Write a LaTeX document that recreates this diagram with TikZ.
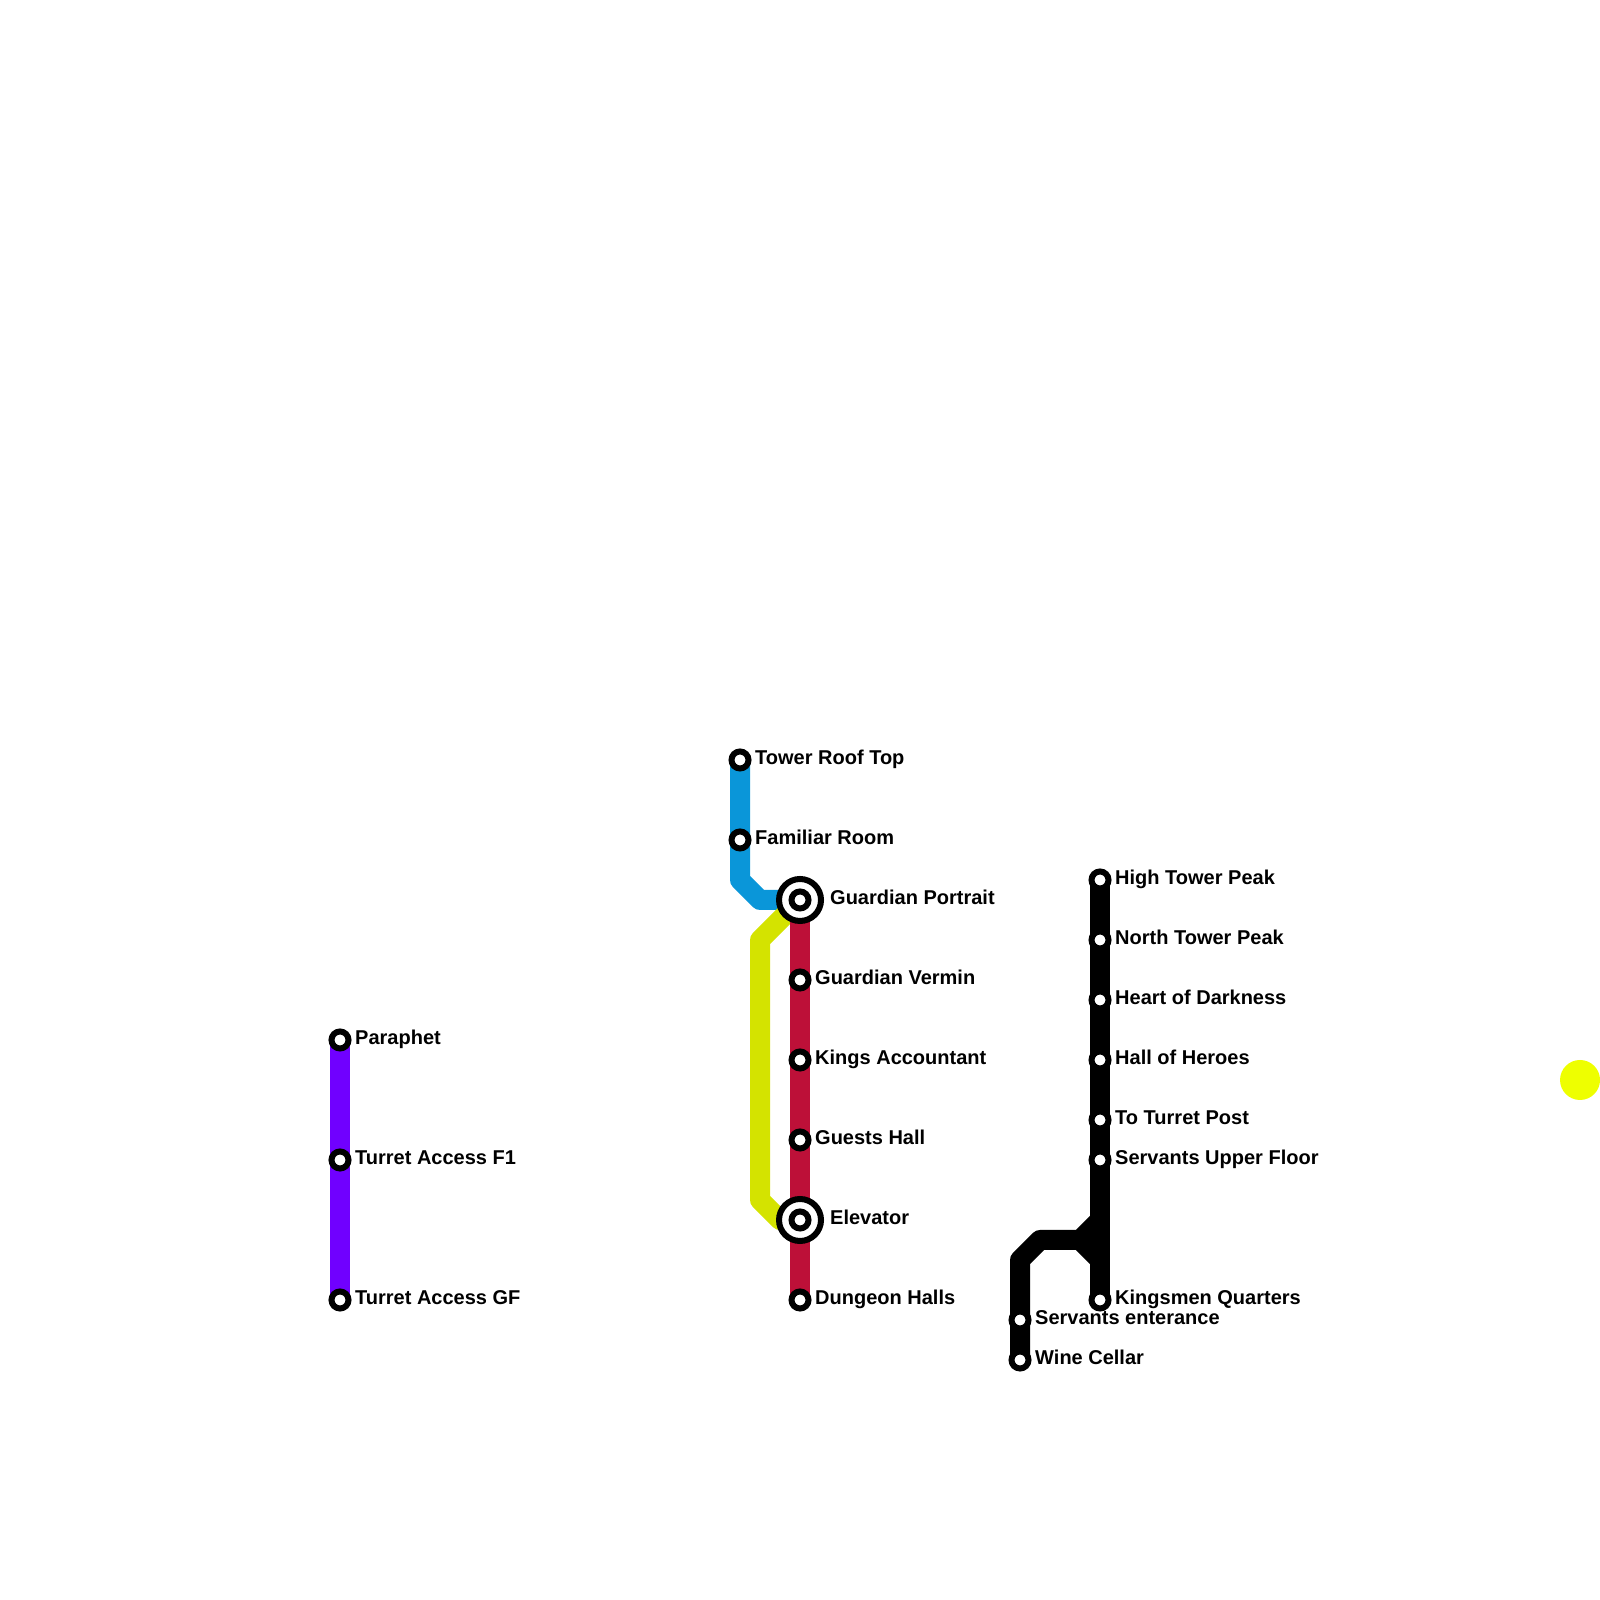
\documentclass[tikz,border=0pt]{standalone}
\usepackage{fontspec}
\setmainfont{Liberation Sans}
\usetikzlibrary{backgrounds}
\definecolor{turret}{HTML}{7000FF}
\definecolor{tower}{HTML}{0A96D9}
\definecolor{dungeon}{HTML}{BD1038}
\definecolor{service}{HTML}{D4E300}
\definecolor{sunspot}{HTML}{EEFF00}
\tikzset{
    metro/.style={line width=2mm, line join=round},
    station/.style={circle, draw=black, fill=white, line width=0.6mm,
                    minimum size=1.7mm, inner sep=0pt},
    interchange/.style={circle, draw=black, fill=white, line width=0.6mm,
                    minimum size=4.2mm, inner sep=0pt},
    place/.style={anchor=base west, inner sep=0pt,
                  font=\fontsize{5.69}{7}\selectfont\bfseries},
}
\begin{document}
\begin{tikzpicture}
\useasboundingbox (0,0) rectangle (16,16);

% Turret line
\node[station] (paraphet) at (3.40,5.60) {};
\node[station] (accessF) at (3.40,4.40) {};
\node[station] (accessG) at (3.40,3.00) {};
\node[place] (paraphetText) at (3.545,5.55) {Paraphet};
\node[place] (accessFText) at (3.545,4.35) {Turret Access F1};
\node[place] (accessGText) at (3.545,2.95) {Turret Access GF};

% Tower line
\node[station] (roof) at (7.40,8.40) {};
\node[station] (familiar) at (7.40,7.60) {};
\node[place] (roofText) at (7.545,8.35) {Tower Roof Top};
\node[place] (familiarText) at (7.545,7.55) {Familiar Room};
\coordinate (towerA) at (7.40,7.20);
\coordinate (towerB) at (7.60,7.00);

% Interchanges
\node[interchange] (portraitRing) at (8.00,7.00) {};
\node[station] (portrait) at (8.00,7.00) {};
\node[interchange] (elevatorRing) at (8.00,3.80) {};
\node[station] (elevator) at (8.00,3.80) {};
\node[place] (portraitText) at (8.295,6.95) {Guardian Portrait};
\node[place] (elevatorText) at (8.295,3.75) {Elevator};

% Dungeon line
\node[station] (vermin) at (8.00,6.20) {};
\node[station] (accountant) at (8.00,5.40) {};
\node[station] (guests) at (8.00,4.60) {};
\node[station] (halls) at (8.00,3.00) {};
\node[place] (verminText) at (8.145,6.15) {Guardian Vermin};
\node[place] (accountantText) at (8.145,5.35) {Kings Accountant};
\node[place] (guestsText) at (8.145,4.55) {Guests Hall};
\node[place] (hallsText) at (8.145,2.95) {Dungeon Halls};

% Bypass line
\coordinate (bypassA) at (7.60,6.60);
\coordinate (bypassB) at (7.60,4.00);
\coordinate (bypassC) at (7.80,3.80);

% Kingsmen line
\node[station] (peak) at (11.00,7.20) {};
\node[station] (north) at (11.00,6.60) {};
\node[station] (heart) at (11.00,6.00) {};
\node[station] (heroes) at (11.00,5.40) {};
\node[station] (post) at (11.00,4.80) {};
\node[station] (upper) at (11.00,4.40) {};
\node[station] (quarters) at (11.00,3.00) {};
\node[station] (entrance) at (10.20,2.80) {};
\node[station] (cellar) at (10.20,2.40) {};
\node[place] (peakText) at (11.145,7.15) {High Tower Peak};
\node[place] (northText) at (11.145,6.55) {North Tower Peak};
\node[place] (heartText) at (11.145,5.95) {Heart of Darkness};
\node[place] (heroesText) at (11.145,5.35) {Hall of Heroes};
\node[place] (postText) at (11.145,4.75) {To Turret Post};
\node[place] (upperText) at (11.145,4.35) {Servants Upper Floor};
\node[place] (quartersText) at (11.145,2.95) {Kingsmen Quarters};
\node[place] (entranceText) at (10.345,2.75) {Servants enterance};
\node[place] (cellarText) at (10.345,2.35) {Wine Cellar};
\coordinate (forkTop) at (11.00,3.80);
\coordinate (forkMid) at (10.80,3.60);
\coordinate (forkLow) at (11.00,3.40);
\coordinate (branchA) at (10.40,3.60);
\coordinate (branchB) at (10.20,3.40);

\node[circle, fill=sunspot, minimum size=4mm, inner sep=0pt] (sunspot) at (15.80,5.20) {};

\begin{scope}[on background layer]
    \draw[metro, turret] (paraphet.center) -- (accessF.center) -- (accessG.center);
    \draw[metro, tower] (roof.center) -- (familiar.center) -- (towerA) -- (towerB) -- (portrait.center);
    \draw[metro, service] (portrait.center) -- (bypassA) -- (bypassB) -- (bypassC) -- (elevator.center);
    \draw[metro, dungeon] (portrait.center) -- (vermin.center) -- (accountant.center)
        -- (guests.center) -- (elevator.center) -- (halls.center);
    \draw[metro] (peak.center) -- (north.center) -- (heart.center) -- (heroes.center)
        -- (post.center) -- (upper.center) -- (quarters.center);
    \draw[metro] (cellar.center) -- (entrance.center) -- (branchB) -- (branchA)
        -- (forkMid) -- (forkTop);
    \draw[metro] (forkMid) -- (forkLow);
\end{scope}
\end{tikzpicture}
\end{document}
